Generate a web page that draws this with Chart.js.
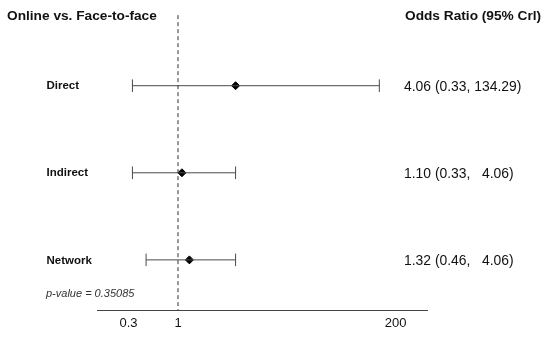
<!DOCTYPE html>
<html>
<head>
<meta charset="utf-8">
<script src="https://cdn.jsdelivr.net/npm/chart.js@4/dist/chart.umd.min.js"></script>
<style>
  html, body { margin: 0; padding: 0; background: #fff; }
  #wrap { width: 550px; height: 337px; position: relative; }
</style>
</head>
<body>
<div id="wrap"><canvas id="c"></canvas></div>
<script>
const categories = ['Direct', 'Indirect', 'Network'];
const oddsRatio = [4.06, 1.10, 1.32];
const lower = [0.33, 0.33, 0.46];
const upper = [134.29, 4.06, 4.06];
const ciLabels = ['4.06 (0.33, 134.29)', '1.10 (0.33,   4.06)', '1.32 (0.46,   4.06)'];
const xTicks = [0.3, 1, 200];
const leftTitle = 'Online vs. Face-to-face';
const rightTitle = 'Odds Ratio (95% Crl)';
const pValueText = 'p-value = 0.35085';

const FONT = '"Liberation Sans", Arial, Helvetica, sans-serif';
const rowY = i => categories.length - i;

const datasets = [];
// reference dashed line at OR = 1
datasets.push({
  type: 'line',
  data: [{ x: 1, y: 3.81 }, { x: 1, y: 0.42 }],
  borderColor: '#333',
  borderWidth: 1,
  borderDash: [4, 3],
  pointRadius: 0,
  showLine: true
});
categories.forEach((c, i) => {
  datasets.push({
    type: 'line',
    data: [{ x: lower[i], y: rowY(i) }, { x: upper[i], y: rowY(i) }],
    borderColor: '#4a4a4a',
    borderWidth: 1,
    showLine: true,
    pointStyle: 'line',
    pointRotation: 90,
    pointRadius: 6.3,
    pointBorderColor: '#4a4a4a',
    pointBorderWidth: 1
  });
});
datasets.push({
  type: 'scatter',
  data: categories.map((c, i) => ({ x: oddsRatio[i], y: rowY(i) })),
  pointStyle: 'rectRot',
  pointRadius: 4,
  pointBackgroundColor: '#000',
  pointBorderColor: '#000',
  pointBorderWidth: 1
});

const textPlugin = {
  id: 'forestText',
  afterDraw(chart) {
    const ctx = chart.ctx;
    const ys = chart.scales.y;
    ctx.save();
    ctx.fillStyle = '#111';
    ctx.textBaseline = 'middle';
    ctx.textAlign = 'left';
    ctx.font = 'bold 13.7px ' + FONT;
    ctx.fillText(leftTitle, 7, 16.5);
    ctx.fillText(rightTitle, 405, 16.5);
    categories.forEach((c, i) => {
      const y = ys.getPixelForValue(rowY(i));
      ctx.font = 'bold 11.5px ' + FONT;
      ctx.fillText(c, 46.5, y + 0.5);
      ctx.font = '13.9px ' + FONT;
      ctx.fillText(ciLabels[i], 404, y + 1);
    });
    ctx.font = 'italic 11px ' + FONT;
    ctx.fillStyle = '#333';
    ctx.fillText(pValueText, 46, 294);
    ctx.restore();
  }
};

new Chart(document.getElementById('c'), {
  data: { datasets },
  options: {
    responsive: true,
    maintainAspectRatio: false,
    animation: false,
    layout: { padding: { left: 97, right: 123, top: 6.5, bottom: 1 } },
    plugins: { legend: { display: false }, tooltip: { enabled: false } },
    scales: {
      x: {
        type: 'logarithmic',
        min: 0.1393,
        max: 428.5,
        grid: { display: false, drawTicks: false },
        border: { display: true, color: '#444', width: 1 },
        afterBuildTicks: (scale) => { scale.ticks = xTicks.map(v => ({ value: v })); },
        ticks: {
          autoSkip: false,
          maxRotation: 0,
          padding: 5,
          color: '#111',
          font: { family: FONT, size: 13 },
          callback: (v) => String(v)
        }
      },
      y: {
        type: 'linear',
        display: false,
        min: 0.42,
        max: 3.9
      }
    }
  },
  plugins: [textPlugin]
});
</script>
</body>
</html>
